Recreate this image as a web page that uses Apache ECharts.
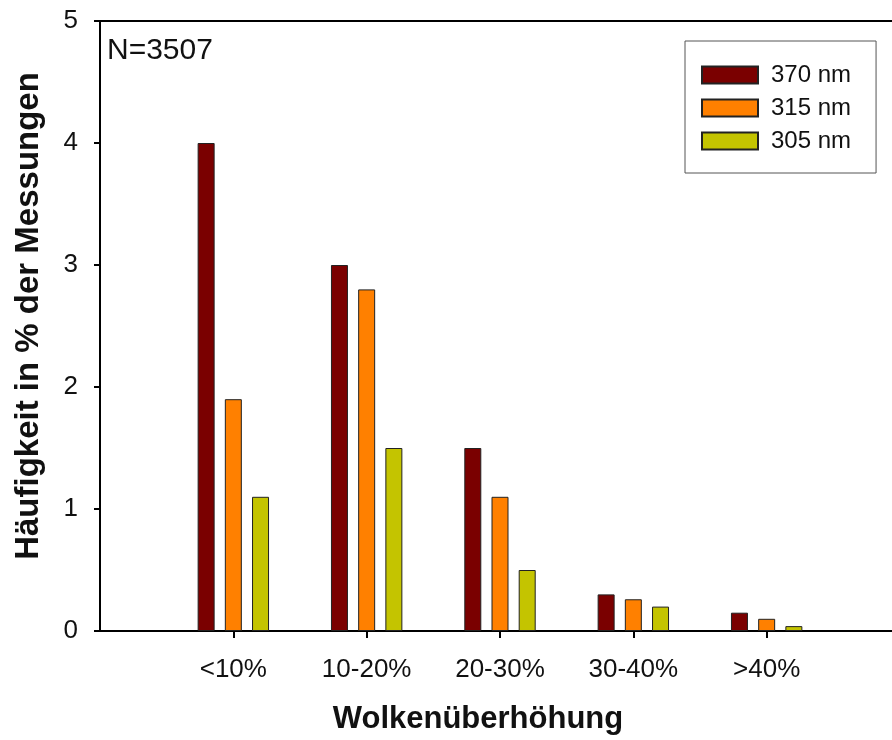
<!DOCTYPE html>
<html>
<head>
<meta charset="utf-8">
<script src="https://cdn.jsdelivr.net/npm/echarts@6/dist/echarts.min.js"></script>
<style>html,body{margin:0;padding:0;background:#fff}#c{width:892px;height:740px}</style>
</head>
<body>
<div id="c"></div>
<script>
const categories = ['', '<10%', '10-20%', '20-30%', '30-40%', '>40%', ''];
const seriesNames = ['370 nm', '315 nm', '305 nm'];
const v370 = [null, 4.0, 3.0, 1.5, 0.3, 0.15, null];
const v315 = [null, 1.9, 2.8, 1.1, 0.26, 0.1, null];
const v305 = [null, 1.1, 1.5, 0.5, 0.2, 0.04, null];
const yTicks = [0, 1, 2, 3, 4, 5];
const xTitle = 'Wolkenüberhöhung';
const yTitle = 'Häufigkeit in % der Messungen';
const note = 'N=3507';
const colors = ['#7a0000', '#ff8000', '#c4c400'];
const FONT = '"Liberation Sans", Arial, sans-serif';

const chart = echarts.init(document.getElementById('c'), null, {renderer: 'canvas'});
const values = [v370, v315, v305];
chart.setOption({
  animation: false,
  backgroundColor: '#fff',
  textStyle: {fontFamily: FONT},
  grid: {left: 100, width: 800, top: 21, height: 610, outerBoundsMode: 'none', containLabel: false,
         show: true, borderColor: '#000', borderWidth: 2, backgroundColor: 'transparent'},
  legend: {
    left: 685, top: 41, orient: 'vertical',
    padding: [22, 25, 20, 16],
    itemWidth: 56, itemHeight: 17, itemGap: 9,
    icon: 'rect',
    borderColor: '#555', borderWidth: 1,
    textStyle: {fontSize: 24, color: '#111', fontFamily: FONT, padding: [0, 0, 0, 8]},
    data: seriesNames
  },
  xAxis: {
    type: 'category', data: categories, boundaryGap: false,
    axisLine: {lineStyle: {color: '#000', width: 2}},
    axisTick: {length: 7, lineStyle: {color: '#000', width: 2}, interval: (i, v) => v !== ''},
    axisLabel: {fontSize: 26, color: '#111', margin: 26, interval: 0, fontFamily: FONT},
    splitLine: {show: false}
  },
  yAxis: {
    type: 'value', min: yTicks[0], max: yTicks[yTicks.length - 1], interval: 1,
    axisLine: {show: true, lineStyle: {color: '#000', width: 2}},
    axisTick: {show: true, length: 6, lineStyle: {color: '#000', width: 2}},
    axisLabel: {fontSize: 26, color: '#111', margin: 22, fontFamily: FONT},
    splitLine: {show: false}
  },
  graphic: [
    {type: 'text', left: 107, top: 36, style: {text: note, font: '30px ' + FONT, fill: '#111'}},
    {type: 'text', x: 478, y: 719, style: {text: xTitle, font: 'bold 31px ' + FONT, fill: '#111', align: 'center', verticalAlign: 'middle'}},
    {type: 'text', x: 29, y: 316, rotation: Math.PI / 2, style: {text: yTitle, font: 'bold 33px ' + FONT, fill: '#111', align: 'center', verticalAlign: 'middle'}}
  ],
  series: seriesNames.map((n, i) => ({
    name: n, type: 'bar', data: values[i],
    barWidth: 17, barGap: '60%',
    itemStyle: {color: colors[i], borderColor: '#222', borderWidth: 1}
  }))
});
</script>
</body>
</html>
